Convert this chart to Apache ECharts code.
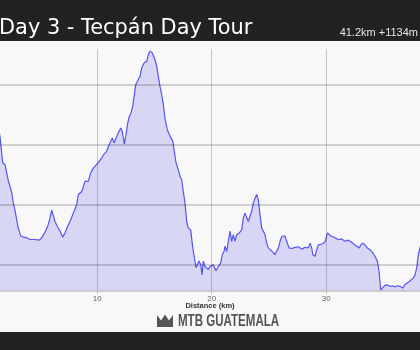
<!DOCTYPE html>
<html>
<head>
<meta charset="utf-8">
<script src="https://cdn.jsdelivr.net/npm/echarts@6/dist/echarts.min.js"></script>
<style>html,body{margin:0;padding:0;background:#f8f8f8;}#c{width:420px;height:350px;}</style>
</head>
<body>
<div id="c"></div>
<script>
var title = 'Day 3 - Tecpán Day Tour';
var stats = '41.2km +1134m';
var xAxisName = 'Distance (km)';
var brand = 'MTB GUATEMALA';
var xTicks = [10, 20, 30];
var distanceKm = [0,0.5,1.0,1.503,1.739,1.940,2.089,2.229,2.377,2.525,2.665,2.814,2.962,3.102,3.312,3.539,3.836,4.124,4.561,4.937,5.146,5.435,5.671,5.872,6.021,6.160,6.309,6.510,6.746,6.982,7.183,7.384,7.620,7.909,8.206,8.346,8.494,8.643,8.782,8.931,9.079,9.219,9.429,9.656,9.892,10.093,10.241,10.390,10.530,10.679,10.827,10.967,11.116,11.316,11.465,11.613,11.841,12.050,12.190,12.365,12.513,12.662,12.802,12.951,13.099,13.239,13.362,13.536,13.740,13.885,14.086,14.321,14.462,14.610,14.811,15.047,15.196,15.336,15.484,15.633,15.773,15.921,16.122,16.297,16.446,16.594,16.734,16.882,17.083,17.232,17.380,17.520,17.669,17.817,17.957,18.167,18.281,18.394,18.543,18.630,18.744,18.892,19.041,19.155,19.268,19.417,19.565,19.705,19.854,20.142,20.378,20.579,20.789,20.929,21.077,21.165,21.313,21.453,21.602,21.750,21.890,22.039,22.187,22.414,22.624,22.764,22.913,23.061,23.201,23.350,23.498,23.638,23.787,23.935,24.075,24.224,24.372,24.512,24.661,24.809,24.949,25.098,25.334,25.535,25.683,25.823,25.972,26.120,26.260,26.409,26.557,26.758,26.994,27.282,27.570,27.867,28.156,28.444,28.593,28.741,28.829,29.030,29.178,29.318,29.467,29.703,29.930,30.105,30.279,30.489,30.690,30.926,31.153,31.363,31.651,31.887,32.088,32.324,32.525,32.674,32.901,33.023,33.198,33.399,33.600,33.836,34.072,34.273,34.474,34.623,34.771,34.911,35.147,35.348,35.584,35.820,36.021,36.222,36.458,36.694,36.895,37.096,37.271,37.420,37.621,37.769,37.918,38.058,38.206,38.5,39.0,39.5,40.0,40.5,41.2];
var elevationM = [2470,2480,2460,2414,2370,2367,2353,2340,2331,2320,2303,2290,2275,2261,2248,2246,2245,2242,2242,2241,2245,2254,2264,2278,2291,2291,2272,2264,2256,2246,2253,2263,2272,2286,2300,2317,2314,2322,2322,2339,2342,2339,2353,2361,2366,2370,2367,2378,2383,2381,2389,2397,2403,2411,2403,2406,2420,2428,2422,2401,2417,2436,2447,2453,2464,2483,2500,2497,2514,2528,2536,2539,2550,2556,2553,2542,2531,2514,2497,2483,2467,2444,2425,2417,2420,2406,2389,2370,2358,2347,2342,2322,2303,2272,2261,2258,2239,2222,2206,2195,2197,2206,2200,2183,2206,2197,2200,2192,2197,2200,2190,2197,2203,2217,2222,2231,2222,2239,2256,2239,2250,2239,2250,2253,2258,2278,2286,2283,2272,2270,2289,2303,2311,2317,2308,2283,2261,2256,2250,2236,2228,2225,2221,2217,2218,2228,2239,2247,2245,2248,2239,2228,2227,2229,2230,2226,2229,2228,2236,2228,2217,2214,2225,2233,2231,2235,2239,2253,2253,2247,2246,2243,2242,2243,2239,2241,2239,2236,2233,2230,2228,2233,2236,2233,2228,2225,2220,2214,2206,2189,2158,2160,2166,2166,2164,2165,2163,2165,2164,2161,2167,2170,2172,2170,2178,2183,2195,2217,2228,2250,2275,2290,2300,2310,2320];
var yMin = 2156.7, yMax = 2574.5;

var data = distanceKm.map(function (d, i) { return [d, elevationM[i]]; });
var chart = echarts.init(document.getElementById('c'), null, {renderer: 'canvas'});
chart.setOption({
  animation: false,
  backgroundColor: '#f8f8f8',
  grid: {left: -17.2, right: -34.3, top: 40, bottom: 59.3, containLabel: false, outerBoundsMode: 'none'},
  xAxis: {
    type: 'value', min: 0, max: 41.2, interval: 10, z: 5,
    axisLine: {show: true, lineStyle: {color: '#c8c8c8', width: 1}},
    axisTick: {show: true, length: 3, lineStyle: {color: '#bbbbbb'}},
    axisLabel: {color: '#666', fontSize: 8, fontFamily: 'Liberation Sans', margin: 4,
      formatter: function (v) { return xTicks.indexOf(v) >= 0 ? String(v) : ''; }},
    splitLine: {show: true, lineStyle: {color: 'rgba(0,0,0,0.2)', width: 1}}
  },
  yAxis: {
    type: 'value', min: yMin, max: yMax, minInterval: 100, maxInterval: 100, z: 5,
    axisLine: {show: false}, axisTick: {show: false}, axisLabel: {show: false},
    splitLine: {show: true, lineStyle: {color: 'rgba(0,0,0,0.22)', width: 1.6}}
  },
  series: [{
    type: 'line', data: data, showSymbol: false, symbol: 'none', smooth: false,
    lineStyle: {color: '#5555f2', width: 1.2},
    areaStyle: {color: 'rgba(96,96,238,0.3)', origin: 'start'}
  }],
  graphic: [
    {type: 'rect', z: 100, shape: {x: 0, y: 41, width: 420, height: 8}, style: {fill: '#f8f8f8'}},
    {type: 'rect', z: 100, shape: {x: 0, y: 0, width: 420, height: 41}, style: {fill: '#222222'}},
    {type: 'rect', z: 100, shape: {x: 0, y: 332, width: 420, height: 18}, style: {fill: '#222222'}},
    {type: 'text', z: 101, x: -1, y: 28.5, scaleX: 0.95,
      style: {text: title, fill: '#ffffff', font: '22px "DejaVu Sans"', align: 'left', verticalAlign: 'middle'}},
    {type: 'text', z: 101, x: 418, y: 33,
      style: {text: stats, fill: '#e8e8e8', font: '11px "Liberation Sans"', align: 'right', verticalAlign: 'middle'}},
    {type: 'text', z: 101, x: 210, y: 305.7,
      style: {text: xAxisName, fill: '#333', font: 'bold 7.5px "Liberation Sans"', align: 'center', verticalAlign: 'middle'}},
    {type: 'polygon', z: 101, shape: {points: [[157,315],[161,320.5],[165,314.5],[169,320.5],[173,315],[173,327],[157,327]]}, style: {fill: '#555555'}},
    {type: 'text', z: 101, x: 178, y: 321, scaleX: 0.7,
      style: {text: brand, fill: '#555555', font: 'bold 16.5px "Liberation Sans Narrow", "Liberation Sans"', align: 'left', verticalAlign: 'middle'}}
  ]
});
</script>
</body>
</html>
